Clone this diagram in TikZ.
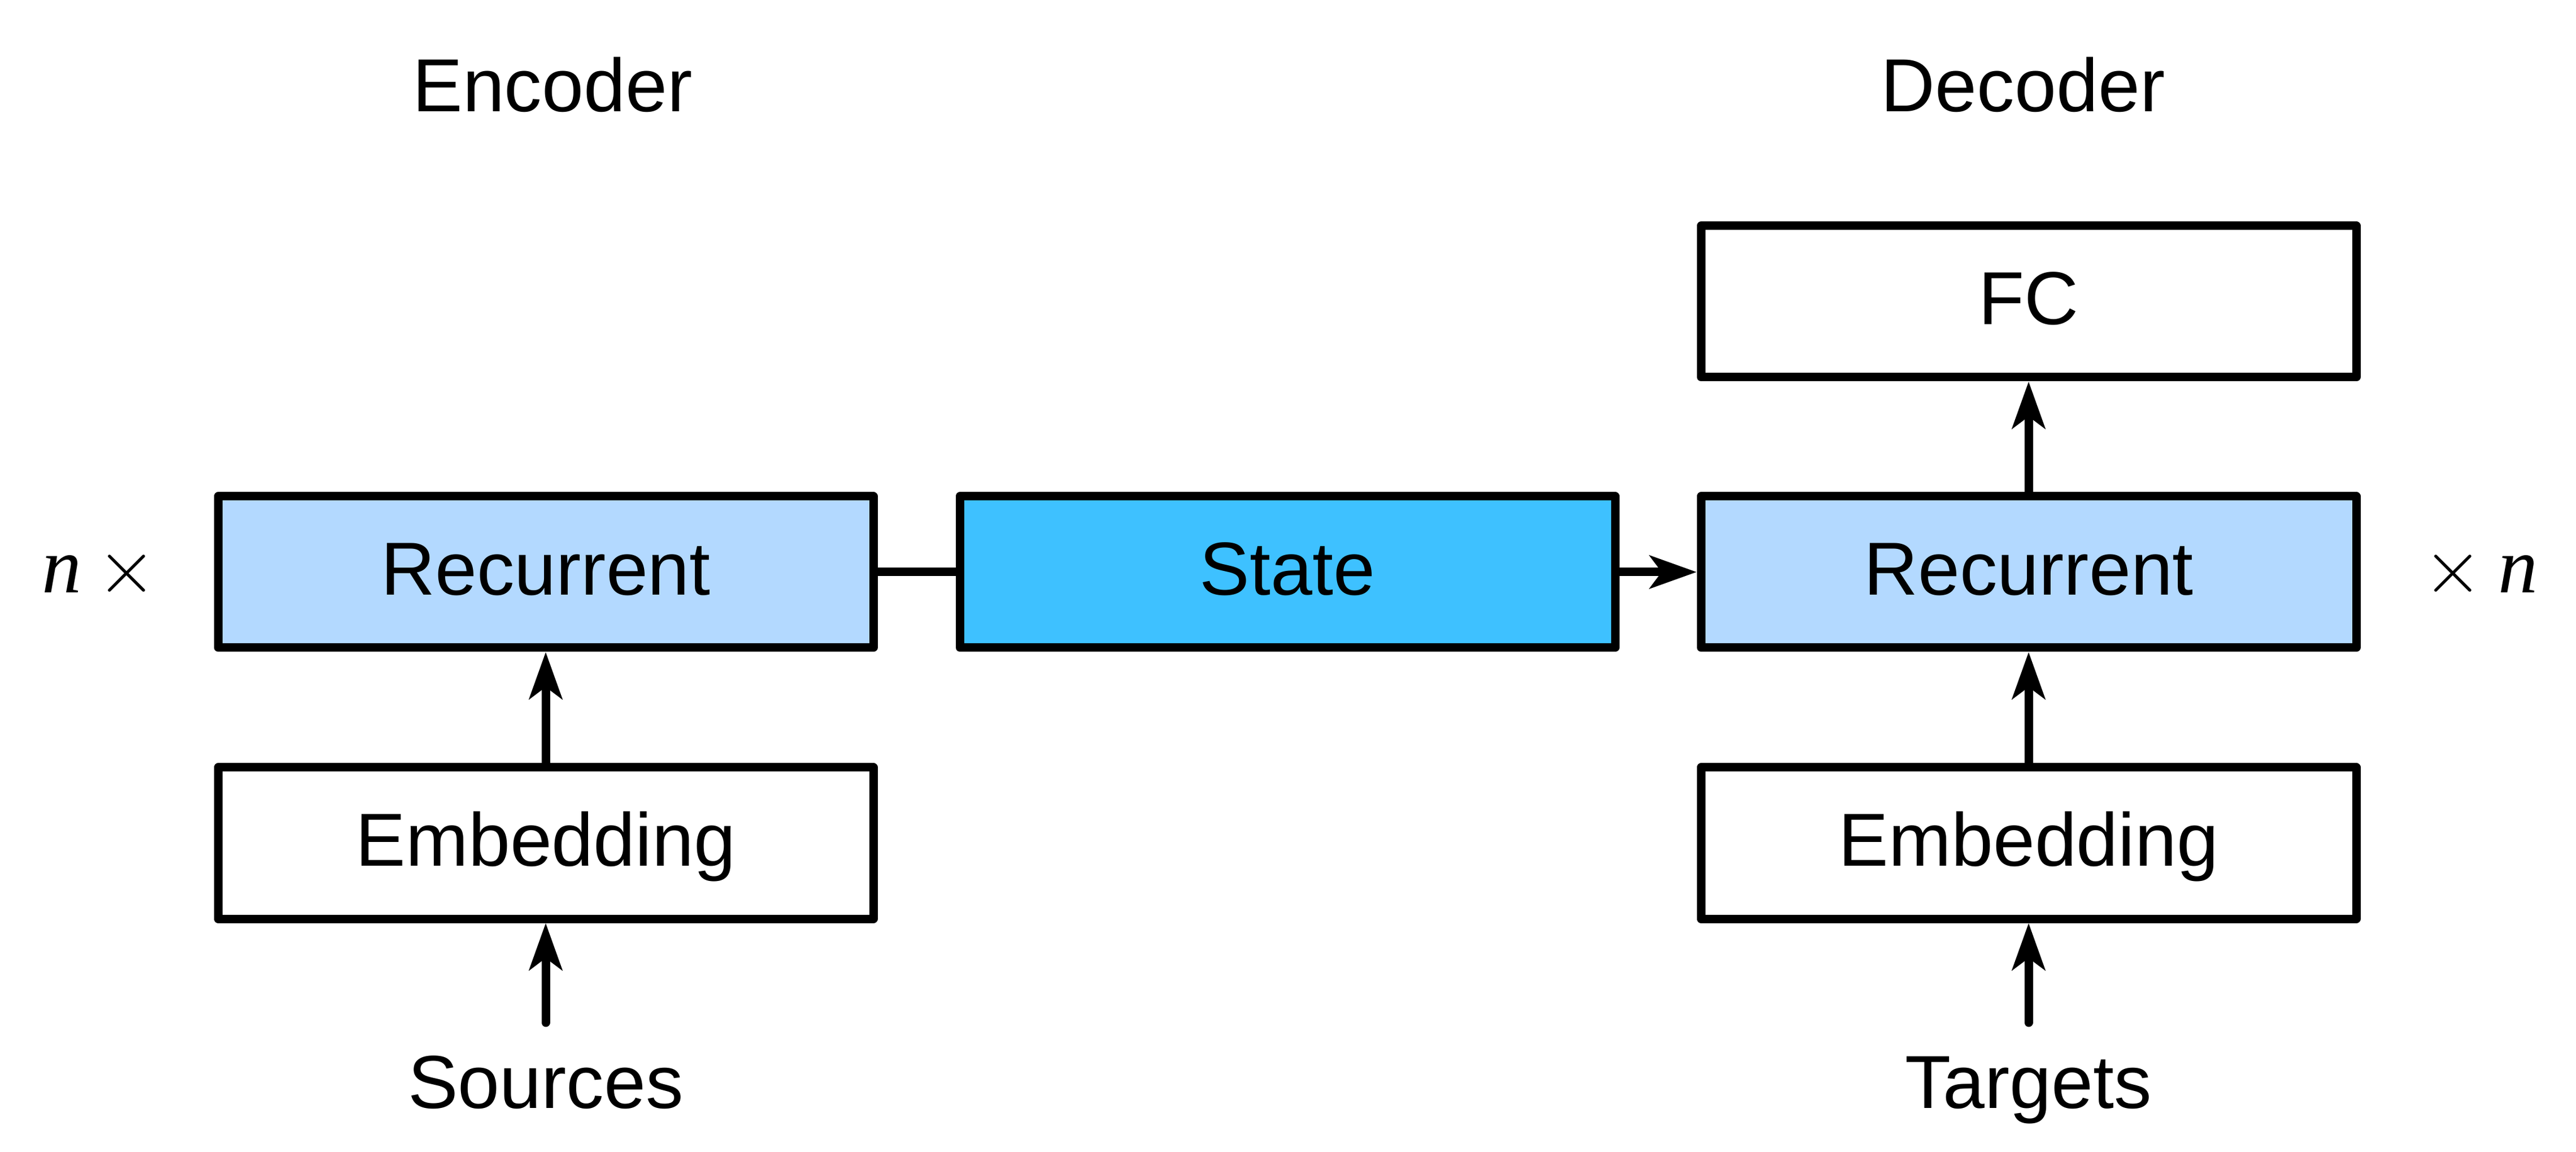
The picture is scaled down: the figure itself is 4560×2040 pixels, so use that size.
\documentclass[tikz,border=0pt]{standalone}
\usepackage{fontspec}
\setmainfont{Liberation Sans}
\newfontfamily\serifit{Liberation Serif}
\usetikzlibrary{arrows.meta}
\definecolor{reclight}{RGB}{179,217,255}
\definecolor{statecol}{RGB}{62,193,255}
\newcommand{\bigtimes}{\scalebox{3.4}{\normalsize$\times$}}
\newcommand{\bign}{{\fontsize{35pt}{40pt}\selectfont\serifit\itshape n}}
\begin{document}
\begin{tikzpicture}[x=0.25pt,y=-0.25pt,
  every node/.style={font=\fontsize{33.25pt}{40pt}\selectfont, inner sep=0pt},
  blk/.style={draw=black, line width=3.75pt, line join=round, minimum width=290pt, minimum height=67pt, text height=23.75pt, text depth=3.5pt},
  plainblk/.style={blk, fill=white},
  recblk/.style={blk, fill=reclight},
  stateblk/.style={blk, fill=statecol},
  conn/.style={line width=3.75pt},
  arr/.style={conn, -{Stealth[length=20.75pt, width=14.5pt, inset=5.25pt]}},
  lbl/.style={anchor=base}]
\useasboundingbox (0,0) rectangle (4560,2040);
\node[lbl] (enc) at (978,198) {Encoder};
\node[lbl] (dec) at (3581,198) {Decoder};
\node[plainblk] (fc) at (3591,534) {FC};
\node[recblk] (erec) at (966,1013) {Recurrent};
\node[stateblk] (state) at (2279,1013) {State};
\node[recblk] (drec) at (3591,1013) {Recurrent};
\node[plainblk] (eemb) at (966,1493) {Embedding};
\node[plainblk] (demb) at (3591,1493) {Embedding};
\node[lbl] (src) at (966,1962) {Sources};
\node[lbl] (tgt) at (3591,1962) {Targets};
\coordinate (srcend) at (966,1811);
\coordinate (tgtend) at (3591,1811);
\node[anchor=base west] (nl) at (74,1050) {\bign\hspace{0.2em}\bigtimes};
\node[anchor=base west] (nr) at (4289,1050) {\bigtimes\hspace{0.2em}\bign};
\draw[conn] (erec.east) -- (state.west);
\draw[arr] (state.east) -- (drec.west);
\draw[arr] (drec.north) -- (fc.south);
\draw[arr] (eemb.north) -- (erec.south);
\draw[arr] (demb.north) -- (drec.south);
\draw[arr, line cap=round] (srcend) -- (eemb.south);
\draw[arr, line cap=round] (tgtend) -- (demb.south);
\end{tikzpicture}
\end{document}
